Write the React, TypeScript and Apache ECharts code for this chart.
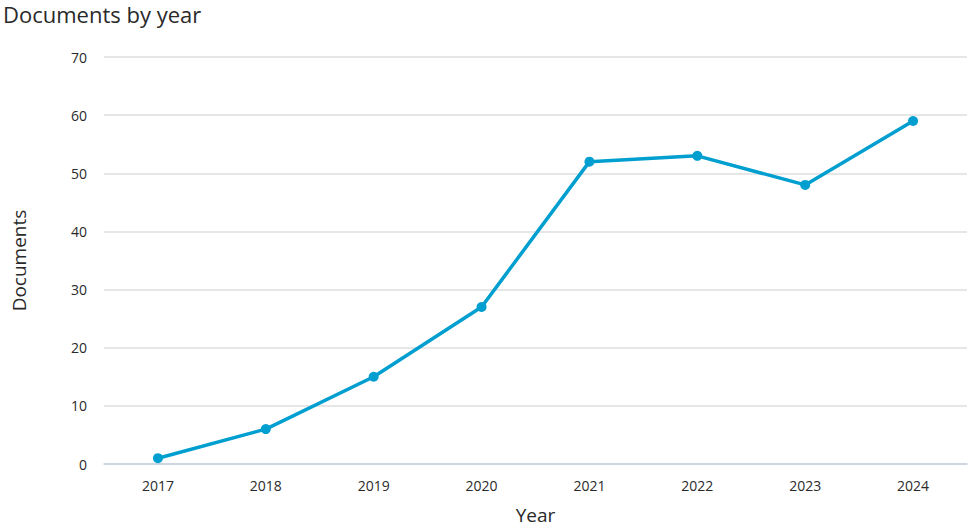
import React, { useEffect, useRef } from "react";
import * as echarts from "echarts";

const years = ["2017", "2018", "2019", "2020", "2021", "2022", "2023", "2024"];
const documents = [1, 6, 15, 27, 52, 53, 48, 59];

const FONT = "'Open Sans', 'Noto Sans', sans-serif";

export default function App() {
  const ref = useRef<HTMLDivElement>(null);
  useEffect(() => {
    const chart = echarts.init(ref.current!, null, { renderer: "svg" });
    chart.setOption({
      animation: false,
      title: {
        text: "Documents by year",
        left: -2,
        top: -2,
        textStyle: { fontFamily: FONT, fontSize: 22, fontWeight: "normal", color: "#2a2a2a" },
      },
      grid: { left: 104, right: 2, top: 57, bottom: 60 },
      xAxis: {
        type: "category",
        data: years,
        boundaryGap: true,
        name: "Year",
        nameLocation: "middle",
        nameGap: 41,
        nameTextStyle: { fontFamily: FONT, fontSize: 19, color: "#2a2a2a" },
        axisLine: { show: true, lineStyle: { color: "#c7d0df", width: 1.5 } },
        axisTick: { show: false },
        axisLabel: { fontFamily: FONT, fontSize: 14, color: "#2a2a2a", margin: 14 },
      },
      yAxis: {
        type: "value",
        min: 0,
        max: 70,
        interval: 10,
        name: "Documents",
        nameLocation: "middle",
        nameGap: 76,
        nameTextStyle: { fontFamily: FONT, fontSize: 19, color: "#2a2a2a" },
        axisLine: { show: false },
        axisTick: { show: false },
        axisLabel: { fontFamily: FONT, fontSize: 14, color: "#2a2a2a", margin: 17 },
        splitLine: { lineStyle: { color: "#dedede", width: 1.5 } },
      },
      series: [
        {
          type: "line",
          data: documents,
          symbol: "circle",
          symbolSize: 10,
          itemStyle: { color: "#009fd0" },
          lineStyle: { color: "#009fd0", width: 3.5 },
        },
      ],
    });
    return () => chart.dispose();
  }, []);
  return (
    <div
      ref={ref}
      style={{ position: "absolute", left: 0, top: 0, width: 969, height: 529, background: "#fff" }}
    />
  );
}
